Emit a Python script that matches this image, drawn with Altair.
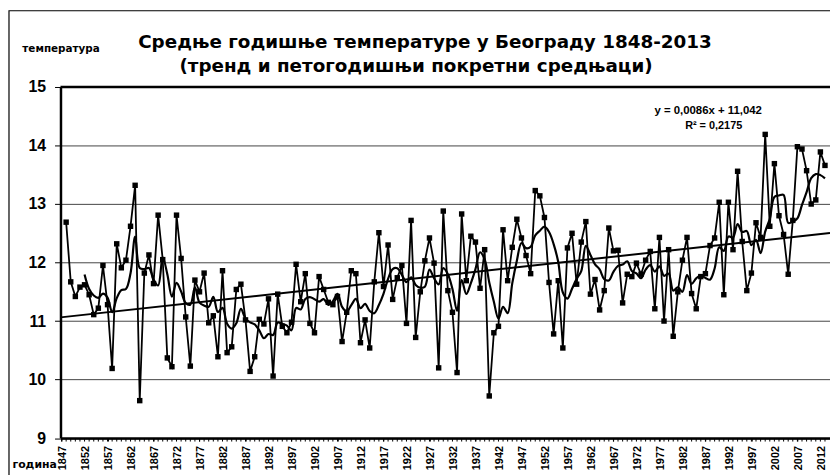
import altair as alt
import pandas as pd

years = list(range(1848, 2014))
temps = [
    12.69, 11.67, 11.42, 11.58, 11.62, 11.45, 11.11, 11.22, 11.95, 11.28,
    10.19, 12.32, 11.91, 12.04, 12.62, 13.32, 9.64, 11.82, 12.13, 11.64,
    12.81, 12.05, 10.37, 10.22, 12.81, 12.07, 11.07, 10.23, 11.70, 11.50,
    11.82, 10.97, 11.09, 10.39, 11.86, 10.46, 10.56, 11.54, 11.63, 11.02,
    10.14, 10.39, 11.03, 10.95, 11.38, 10.06, 11.46, 10.91, 10.80, 10.98,
    11.97, 11.33, 11.81, 10.96, 10.80, 11.76, 11.54, 11.32, 11.28, 11.42,
    10.65, 11.15, 11.86, 11.81, 10.63, 11.02, 10.54, 11.67, 12.51, 11.59,
    12.30, 11.37, 11.74, 11.95, 10.96, 12.72, 10.72, 11.50, 12.03, 12.42,
    11.99, 10.20, 12.88, 11.52, 11.15, 10.12, 12.83, 11.69, 12.45, 12.35,
    11.56, 12.22, 9.72, 10.80, 10.91, 12.56, 11.69, 12.26, 12.74, 12.42,
    12.12, 11.81, 13.23, 13.14, 12.77, 11.66, 10.78, 11.69, 10.54, 12.25,
    12.50, 11.63, 12.35, 12.70, 11.46, 11.71, 11.19, 11.52, 12.59, 12.20,
    12.21, 11.31, 11.80, 11.76, 11.99, 11.80, 12.04, 12.19, 11.21, 12.43,
    11.00, 12.22, 10.74, 11.50, 12.04, 12.43, 11.47, 11.21, 11.76, 11.81,
    12.29, 12.42, 13.03, 11.45, 13.03, 12.22, 13.56, 12.36, 11.52, 11.82,
    12.68, 12.43, 14.19, 12.62, 13.69, 12.80, 12.48, 11.80, 12.72, 13.98,
    13.94, 13.57, 13.00, 13.07, 13.89, 13.66,
]
assert len(years) == len(temps)

label_years = list(range(1847, 2014, 5))
tick_years = list(range(1847, 2014))
y_ticks = [9, 10, 11, 12, 13, 14, 15]
title_lines = [
    "Средње годишње температуре у Београду 1848-2013",
    "(тренд и петогодишњи покретни средњаци)",
]
eq_lines = ["y = 0,0086x + 11,042", "R² = 0,2175"]
y_title = "температура"
x_title = "година"

df = pd.DataFrame({"year": years, "temp": temps})
ticks_df = pd.DataFrame({"year": tick_years})
labels_df = pd.DataFrame({"year": label_years})
one = pd.DataFrame({"k": [0]})

FONT = "Liberation Sans"
CYR = "DejaVu Sans"
XDOM = [1846.77, 2014.09]

x_axis = alt.Axis(
    values=label_years,
    labels=False,
    tickSize=3,
    tickColor="black",
    tickWidth=1,
    domainColor="black",
    domainWidth=2.5,
    grid=False,
    title=x_title,
    titleFont=CYR,
    titleFontSize=11,
    titleFontWeight="bold",
    titleColor="black",
    titleAngle=0,
    titleAlign="left",
    titleBaseline="alphabetic",
    titleX=-49,
    titleY=30,
)

y_axis = alt.Axis(
    values=y_ticks,
    format="d",
    labelFont=FONT,
    labelFontSize=16,
    labelFontWeight="bold",
    labelColor="black",
    labelPadding=9,
    tickSize=6,
    tickColor="black",
    tickWidth=1,
    domainColor="black",
    domainWidth=2.5,
    grid=True,
    gridColor="#444444",
    gridWidth=1,
    title=y_title,
    titleFont=CYR,
    titleFontSize=10.5,
    titleFontWeight="bold",
    titleColor="black",
    titleAngle=0,
    titleAlign="left",
    titleBaseline="alphabetic",
    titleX=-39,
    titleY=-35.5,
)


def xenc():
    return alt.X("year:Q", scale=alt.Scale(domain=XDOM, nice=False, zero=False), axis=x_axis)


def yenc(field):
    return alt.Y(f"{field}:Q", scale=alt.Scale(domain=[9, 15], nice=False, zero=False), axis=y_axis)


base = alt.Chart(df)

line = base.mark_line(color="black", strokeWidth=1.8).encode(x=xenc(), y=yenc("temp"))
points = base.mark_point(shape="square", filled=True, color="black", size=30, opacity=1).encode(
    x=xenc(), y=yenc("temp")
)
ma = (
    base.transform_window(ma="mean(temp)", n="count()", frame=[-4, 0], sort=[{"field": "year"}])
    .transform_filter("datum.n >= 5")
    .mark_line(color="black", strokeWidth=2.2, interpolate="catmull-rom")
    .encode(x=xenc(), y=yenc("ma"))
)
trend = (
    base.transform_regression("year", "temp", method="linear", extent=XDOM)
    .mark_line(color="black", strokeWidth=2)
    .encode(x=xenc(), y=yenc("temp"))
)

minor_ticks = alt.Chart(ticks_df).mark_rule(color="black", strokeWidth=1).encode(
    x=xenc(), y=alt.value(355.5), y2=alt.value(358)
)

x_labels = alt.Chart(labels_df).mark_text(
    font=FONT, fontSize=11, fontWeight="bold", color="black",
    angle=270, align="right", baseline="middle", dy=2,
).encode(x=xenc(), y=alt.value(362.5), text=alt.Text("year:Q", format="d"))

top_rule = alt.Chart(one).mark_rule(color="black", strokeWidth=2.5).encode(y=alt.datum(15))

eq1 = alt.Chart(one).mark_text(font=FONT, fontSize=11.5, fontWeight="bold", color="black", baseline="middle").encode(
    x=alt.datum(1987.6), y=alt.datum(14.585), text=alt.value(eq_lines[0])
)
eq2 = alt.Chart(one).mark_text(font=FONT, fontSize=11, fontWeight="bold", color="black", baseline="middle").encode(
    x=alt.datum(1988.8), y=alt.datum(14.33), text=alt.value(eq_lines[1])
)

t1 = alt.Chart(one).mark_text(font=CYR, fontSize=18.5, fontWeight="bold", color="black", baseline="alphabetic").encode(
    x=alt.value(368), y=alt.value(-39), text=alt.value(title_lines[0])
)
t2 = alt.Chart(one).mark_text(font=CYR, fontSize=18.5, fontWeight="bold", color="black", baseline="alphabetic").encode(
    x=alt.value(359), y=alt.value(-15), text=alt.value(title_lines[1])
)

frame = alt.Chart(one).mark_rect(fill=None, stroke="black", strokeWidth=1.2).encode(
    x=alt.value(-52), x2=alt.value(800), y=alt.value(-77), y2=alt.value(420)
)

chart = (
    alt.layer(frame, top_rule, minor_ticks, trend, ma, line, points, x_labels, eq1, eq2, t1, t2)
    .properties(
        width=777,
        height=354.5,
        autosize=alt.AutoSizeParams(type="none"),
        padding={"left": 53, "top": 77.5, "right": 0, "bottom": 35},
        background="white",
    )
    .configure_view(stroke=None)
)

chart.save("out.html", embed_options={"renderer": "svg", "actions": False})
